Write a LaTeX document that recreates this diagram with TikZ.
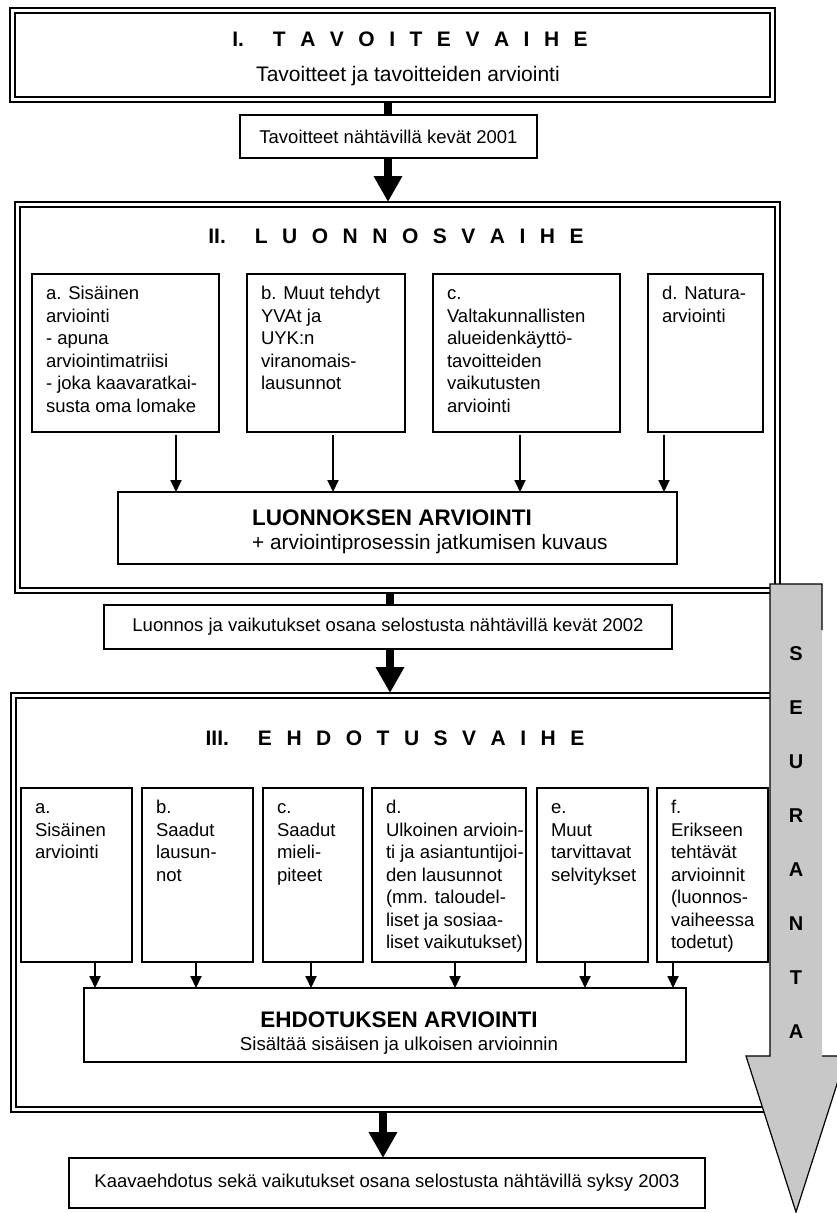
\documentclass[tikz,border=0pt]{standalone}
\usepackage{fontspec}
\setmainfont{Liberation Sans}
\usetikzlibrary{arrows.meta}
\definecolor{seurgray}{RGB}{200,200,200}
\newcommand{\bodyfont}{\fontsize{18.5}{22.5}\selectfont}
\newcommand{\phasefont}{\fontsize{21}{24}\selectfont\bfseries\spaceskip=14.5pt\relax}
\newcommand{\subtext}[3]{\parbox[t][#2][t]{#1}{\vspace*{10pt}\hspace*{14pt}\begin{tabular}[t]{@{}l@{}}#3\end{tabular}}}

\begin{document}
\begin{tikzpicture}[
    x=1pt, y=-1pt,
    phase/.style={draw, line width=2.6pt, inner sep=0pt, outer sep=0pt},
    notebox/.style={draw, line width=1.2pt, inner sep=0pt, outer sep=0pt, font=\bodyfont},
    subbox/.style={draw, line width=1.2pt, anchor=north west, inner sep=0pt, outer sep=0pt, font=\bodyfont},
    resultbox/.style={draw, line width=1.4pt, inner sep=0pt, outer sep=0pt},
    phasetitle/.style={inner sep=0pt, font=\phasefont},
    bigline/.style={line width=8pt},
    bigarrow/.style={line width=8pt, -{Triangle[width=27pt,length=26pt]}},
    arrow/.style={line width=1.8pt, -{Triangle[width=11pt,length=12pt]}}
]
    \useasboundingbox (0,0) rectangle (837,1213);
    \clip (0,0) rectangle (837,1213);

    % I. Tavoitevaihe
    \node[phase, minimum width=765pt, minimum height=94pt] (ph1) at (392.5,55) {};
    \node[phasetitle] (t1) at (410,39) {I.~ T A V O I T E V A I H E};
    \node[inner sep=0pt, font=\fontsize{21}{24}\selectfont] (st1) at (408,76) {Tavoitteet ja tavoitteiden arviointi};
    \node[notebox, minimum width=297pt, minimum height=43pt] (n1) at (388.5,136.5) {Tavoitteet nähtävillä kevät 2001};

    % II. Luonnosvaihe
    \node[phase, minimum width=765pt, minimum height=391pt] (ph2) at (397.5,397.5) {};
    \node[phasetitle] (t2) at (396,236) {II.~ L U O N N O S V A I H E};
    \node[subbox] (a2) at (32,274) {\subtext{187pt}{158pt}{a. Sisäinen\\arviointi\\- apuna\\arviointimatriisi\\- joka kaavaratkai-\\susta oma lomake}};
    \node[subbox] (b2) at (247,274) {\subtext{158pt}{158pt}{b. Muut tehdyt\\YVAt ja\\UYK:n\\viranomais-\\lausunnot}};
    \node[subbox] (c2) at (433,274) {\subtext{187pt}{158pt}{c.\\Valtakunnallisten\\alueidenkäyttö-\\tavoitteiden\\vaikutusten\\arviointi}};
    \node[subbox] (d2) at (648,274) {\subtext{115pt}{158pt}{d. Natura-\\arviointi}};
    \node[resultbox, minimum width=559pt, minimum height=72pt] (r2) at (397.5,528) {};
    \node[anchor=west, align=left, inner sep=0pt, font=\fontsize{20.8}{24}\selectfont] (r2t) at (252,532)
        {{\fontsize{22.5}{24}\selectfont\bfseries LUONNOKSEN ARVIOINTI}\\{\mdseries + arviointiprosessin jatkumisen kuvaus}};
    \foreach \x/\b in {176/a2, 333/b2, 520/c2, 664/d2}
        \draw[arrow, shorten <=3pt] (\x,0 |- \b.south) -- (\x,0 |- r2.north);

    \node[notebox, minimum width=568pt, minimum height=44pt] (n2) at (388,627) {Luonnos ja vaikutukset osana selostusta nähtävillä kevät 2002};

    % III. Ehdotusvaihe
    \node[phase, minimum width=769pt, minimum height=419pt] (ph3) at (395.5,902.5) {};
    \node[phasetitle] (t3) at (395,738) {III.~ E H D O T U S V A I H E};
    \node[subbox] (a3) at (21,788) {\subtext{111pt}{174pt}{a.\\Sisäinen\\arviointi}};
    \node[subbox] (b3) at (142,788) {\subtext{111pt}{174pt}{b.\\Saadut\\lausun-\\not}};
    \node[subbox] (c3) at (263,788) {\subtext{100pt}{174pt}{c.\\Saadut\\mieli-\\piteet}};
    \node[subbox] (d3) at (372,788) {\subtext{154pt}{174pt}{d.\\Ulkoinen arvioin-\\ti ja asiantuntijoi-\\den lausunnot\\(mm. taloudel-\\liset ja sosiaa-\\liset vaikutukset)}};
    \node[subbox] (e3) at (537,788) {\subtext{111pt}{174pt}{e.\\Muut\\tarvittavat\\selvitykset}};
    \node[subbox] (f3) at (657,788) {\subtext{111pt}{174pt}{f.\\Erikseen\\tehtävät\\arvioinnit\\(luonnos-\\vaiheessa\\todetut)}};
    \node[resultbox, minimum width=602pt, minimum height=74pt] (r3) at (385,1025) {};
    \node[align=center, inner sep=0pt, font=\fontsize{18.7}{23}\selectfont] (r3t) at (399,1033)
        {{\fontsize{22.5}{23}\selectfont\bfseries EHDOTUKSEN ARVIOINTI}\\{\mdseries Sisältää sisäisen ja ulkoisen arvioinnin}};
    \foreach \x/\b in {95/a3, 196/b3, 311/c3, 455/d3, 585/e3, 673/f3}
        \draw[arrow] (\x,0 |- \b.south) -- (\x,0 |- r3.north);

    \node[notebox, minimum width=636pt, minimum height=50pt] (n3) at (387,1183) {Kaavaehdotus sekä vaikutukset osana selostusta nähtävillä syksy 2003};

    % connectors between the phases
    \draw[bigline] (388,0 |- ph1.south) -- (388,0 |- n1.north);
    \draw[bigarrow] (388,0 |- n1.south) -- (388,0 |- ph2.north);
    \draw[bigline] (390,0 |- ph2.south) -- (390,0 |- n2.north);
    \draw[bigarrow] (390,0 |- n2.south) -- (390,0 |- ph3.north);
    \draw[bigarrow] (383,0 |- ph3.south) -- (383,0 |- n3.north);

    % inner lines of the phase frames
    \foreach \p in {ph1, ph2, ph3}
        \draw[line width=1.1pt] ([shift={(5,5)}]\p.north west) rectangle ([shift={(-5,-5)}]\p.south east);

    % Seuranta arrow
    \fill[seurgray] (770,584) -- (822,584) -- (822,1056) -- (846,1056) -- (796,1212) -- (746,1056) -- (770,1056) -- cycle;
    \draw[line width=1.2pt] (822,630) -- (822,584) -- (770,584) -- (770,1056) -- (746,1056) -- (796,1212) -- (846,1056) -- (822,1056);
    \node[align=center, inner sep=0pt, font=\fontsize{20}{54}\selectfont\bfseries] (seur) at (796,843) {S\\E\\U\\R\\A\\N\\T\\A};
\end{tikzpicture}
\end{document}
